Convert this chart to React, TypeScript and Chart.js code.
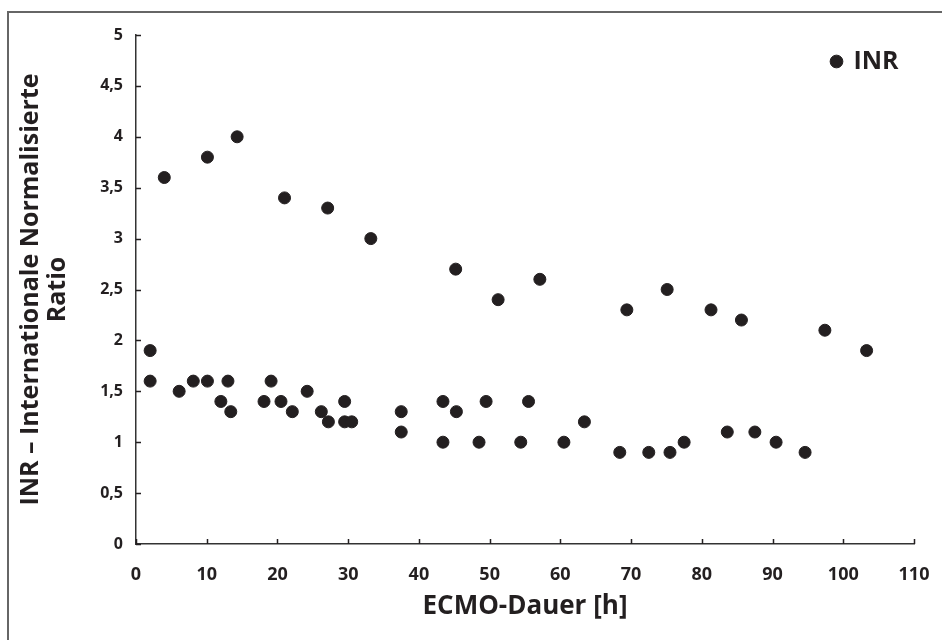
import React, { useEffect, useRef } from "react";
import { Chart, registerables } from "chart.js";

Chart.register(...registerables);

const seriesLabel = "INR";
const durationHours = [
  2, 2, 4, 6.1, 8.1, 10.1, 10.1, 12, 13, 13.4, 14.3, 18.1, 19.1, 20.5, 21, 22.1,
  24.2, 26.2, 27.1, 27.2, 29.5, 29.5, 30.5, 33.2, 37.5, 37.5, 43.4, 43.4, 45.2,
  45.3, 48.5, 49.5, 51.2, 54.4, 55.5, 57.1, 60.5, 63.4, 68.4, 69.4, 72.5, 75.1,
  75.5, 77.5, 81.3, 83.6, 85.6, 87.5, 90.5, 94.6, 97.4, 103.3,
];
const inrValues = [
  1.9, 1.6, 3.6, 1.5, 1.6, 3.8, 1.6, 1.4, 1.6, 1.3, 4.0, 1.4, 1.6, 1.4, 3.4, 1.3,
  1.5, 1.3, 3.3, 1.2, 1.4, 1.2, 1.2, 3.0, 1.3, 1.1, 1.4, 1.0, 2.7,
  1.3, 1.0, 1.4, 2.4, 1.0, 1.4, 2.6, 1.0, 1.2, 0.9, 2.3, 0.9, 2.5,
  0.9, 1.0, 2.3, 1.1, 2.2, 1.1, 1.0, 0.9, 2.1, 1.9,
];
const xTitle = "ECMO-Dauer [h]";
const yTitle = ["INR – Internationale Normalisierte", "Ratio"];

const INK = "#231f20";
const FONT = "'Open Sans', 'DejaVu Sans', sans-serif";

const innerTicks = {
  id: "innerTicks",
  afterDraw(chart: any) {
    const { ctx, chartArea, scales } = chart;
    ctx.save();
    ctx.strokeStyle = INK;
    ctx.lineWidth = 1.5;
    ctx.beginPath();
    scales.x.ticks.forEach((t: any) => {
      const px = Math.round(scales.x.getPixelForValue(t.value)) + 0.5;
      ctx.moveTo(px, chartArea.bottom);
      ctx.lineTo(px, chartArea.bottom - 5);
    });
    scales.y.ticks.forEach((t: any) => {
      const py = Math.round(scales.y.getPixelForValue(t.value)) + 0.5;
      ctx.moveTo(chartArea.left, py);
      ctx.lineTo(chartArea.left + 5, py);
    });
    ctx.stroke();
    ctx.restore();
  },
};

// move the library legend (laid out in the chart area) to its top-right corner
const legendTopRight = {
  id: "legendTopRight",
  afterLayout(chart: any) {
    const lg = chart.legend;
    if (!lg) return;
    const w = lg.width;
    const h = lg.height;
    lg.left = chart.chartArea.right - 96;
    lg.right = lg.left + w;
    lg.top = chart.chartArea.top;
    lg.bottom = lg.top + h;
  },
};

export default function App() {
  const ref = useRef<HTMLCanvasElement>(null);
  useEffect(() => {
    if (!ref.current) return;
    const chart = new Chart(ref.current, {
      type: "scatter",
      data: {
        datasets: [
          {
            label: seriesLabel,
            data: durationHours.map((x, i) => ({ x, y: inrValues[i] })),
            backgroundColor: INK,
            borderColor: INK,
            borderWidth: 1,
            pointRadius: 6,
            pointStyle: "circle",
          },
        ],
      },
      options: {
        animation: false,
        responsive: false,
        maintainAspectRatio: false,
        layout: { padding: { top: 35, right: 28, bottom: 0, left: 0 } },
        plugins: {
          tooltip: { enabled: false },
          legend: {
            position: "chartArea" as any,
            align: "start",
            labels: {
              usePointStyle: true,
              boxWidth: 9,
              boxHeight: 9,
              padding: 14,
              color: INK,
              font: { family: FONT, size: 25, weight: "bold" },
            },
          },
        },
        scales: {
          x: {
            type: "linear",
            min: 0,
            max: 110,
            afterFit: (s: any) => {
              s.height = 96;
              s.paddingLeft = 0;
              s.paddingRight = 0;
            },
            ticks: {
              stepSize: 10,
              padding: 20,
              color: INK,
              font: { family: FONT, size: 18, weight: "bold" },
            },
            grid: { display: true, drawOnChartArea: false, drawTicks: false, color: "rgba(0,0,0,0)" },
            border: { display: true, color: "#333", width: 1.5 },
            title: {
              display: true,
              text: xTitle,
              color: INK,
              font: { family: FONT, size: 26, weight: "bold" },
              padding: { top: 0, bottom: 18 },
            },
          },
          y: {
            type: "linear",
            min: 0,
            max: 5,
            afterFit: (s: any) => {
              s.width = 136;
              s.paddingTop = 0;
              s.paddingBottom = 0;
            },
            ticks: {
              stepSize: 0.5,
              padding: 13,
              color: INK,
              font: { family: FONT, size: 16, weight: "bold" },
              callback: (v: any) => String(v).replace(".", ","),
            },
            grid: { display: true, drawOnChartArea: false, drawTicks: false, color: "rgba(0,0,0,0)" },
            border: { display: true, color: "#333", width: 1.5 },
            title: {
              display: true,
              text: yTitle,
              color: INK,
              font: { family: FONT, size: 25, weight: "bold", lineHeight: 1.1 },
              padding: { top: 17, bottom: 0 },
            },
          },
        },
      },
      plugins: [innerTicks, legendTopRight],
    });
    return () => chart.destroy();
  }, []);

  return (
    <div style={{ position: "fixed", left: 0, top: 0, width: 942, height: 640, overflow: "hidden", background: "#fff" }}>
      <div
        style={{
          position: "absolute",
          left: 7,
          top: 11,
          width: 1000,
          height: 700,
          border: "2px solid #666",
          boxSizing: "border-box",
        }}
      />
      <canvas ref={ref} width={942} height={640} style={{ position: "absolute", left: 0, top: 0 }} />
    </div>
  );
}
